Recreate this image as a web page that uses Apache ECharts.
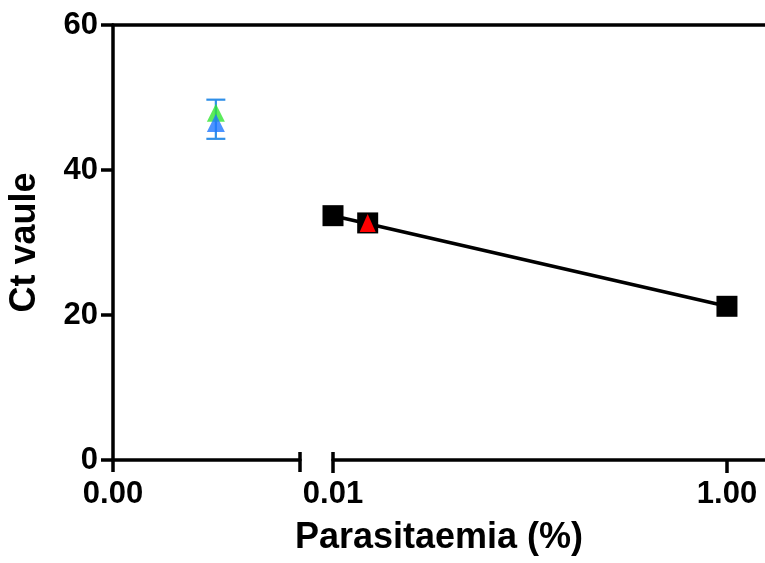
<!DOCTYPE html>
<html>
<head>
<meta charset="utf-8">
<script src="https://cdn.jsdelivr.net/npm/echarts@6/dist/echarts.min.js"></script>
<style>
  html, body { margin: 0; padding: 0; background: #fff; }
  #chart { width: 765px; height: 563px; }
</style>
</head>
<body>
<div id="chart"></div>
<script>
// left segment of the broken axis (undetected samples)
const lowX = [0.0011]
const greenY = [47.9]
const blueY = [46.5]
const errLow = [44.3]
const errHigh = [49.7]
// right segment (log scale)
const squareX = [0.01, 1]
const squareY = [33.7, 21.2]
const redX = [0.015]
const redY = [32.7]
// ticks
const yTicks = [0, 20, 40, 60]
const lowTicks = [0, 0.002]
const logTicks = [0.01, 1]

const font = { fontFamily: 'Liberation Sans', fontWeight: 'bold', color: '#000' }
const black = { color: '#000', width: 3.5 }

const chart = echarts.init(document.getElementById('chart'))

chart.setOption({
  animation: false,
  grid: [
    { left: 113, top: 25, width: 187, bottom: 103 }, // left piece
    { left: 333, top: 25, right: 0, bottom: 103 }, // log piece
    { left: 113, top: 25, right: 0, bottom: 103 } // frame + x title
  ],
  xAxis: [
    {
      gridIndex: 0, type: 'value', min: 0, max: lowTicks[1], position: 'bottom',
      axisLine: { show: true, onZero: false, lineStyle: black },
      axisTick: { customValues: lowTicks, length: 12, lineStyle: black },
      axisLabel: { customValues: [lowTicks[0]], formatter: v => v.toFixed(2), fontSize: 31, margin: 19, ...font },
      splitLine: { show: false }
    },
    { // break mark going up
      gridIndex: 0, type: 'value', min: 0, max: lowTicks[1], position: 'bottom',
      axisLine: { show: false, onZero: false },
      axisTick: { inside: true, customValues: [lowTicks[1]], length: 8, lineStyle: black },
      axisLabel: { show: false },
      splitLine: { show: false }
    },
    {
      gridIndex: 1, type: 'log', logBase: 100, min: 0.01, max: 1.56, position: 'bottom',
      axisLine: { show: true, onZero: false, lineStyle: black },
      axisTick: { customValues: logTicks, length: 13, lineStyle: black },
      axisLabel: { customValues: logTicks, formatter: v => Number(v).toFixed(2), fontSize: 31, margin: 19, ...font },
      splitLine: { show: false }
    },
    { // break mark going up
      gridIndex: 1, type: 'log', logBase: 100, min: 0.01, max: 1.56, position: 'bottom',
      axisLine: { show: false, onZero: false },
      axisTick: { inside: true, customValues: [logTicks[0]], length: 8, lineStyle: black },
      axisLabel: { show: false },
      splitLine: { show: false }
    },
    { // top frame line
      gridIndex: 2, type: 'value', min: 0, max: 1, position: 'top',
      axisLine: { show: true, onZero: false, lineStyle: black },
      axisTick: { show: false }, axisLabel: { show: false }, splitLine: { show: false }
    },
    {
      gridIndex: 2, type: 'value', min: 0, max: 1, position: 'bottom',
      axisLine: { show: false, onZero: false },
      axisTick: { show: false }, axisLabel: { show: false }, splitLine: { show: false },
      name: 'Parasitaemia (%)', nameLocation: 'middle', nameGap: 60,
      nameTextStyle: { fontSize: 36, ...font }
    }
  ],
  yAxis: [
    {
      gridIndex: 0, type: 'value', min: 0, max: 60, interval: 20,
      axisLine: { show: true, onZero: false, lineStyle: black },
      axisTick: { length: 12, lineStyle: black },
      axisLabel: { fontSize: 31, margin: 15, ...font },
      splitLine: { show: false },
      name: 'Ct vaule', nameLocation: 'middle', nameGap: 70,
      nameTextStyle: { fontSize: 36, ...font }
    },
    { gridIndex: 1, type: 'value', min: 0, max: 60, show: false, splitLine: { show: false } },
    { gridIndex: 2, type: 'value', min: 0, max: 60, show: false, splitLine: { show: false } }
  ],
  series: [
    {
      type: 'custom',
      xAxisIndex: 0,
      yAxisIndex: 0,
      data: lowX.map((x, i) => [x, errLow[i], errHigh[i]]),
      renderItem: (params, api) => {
        const top = api.coord([api.value(0), api.value(2)])
        const bot = api.coord([api.value(0), api.value(1)])
        const w = 9.5
        const style = { stroke: '#2f8fe8', lineWidth: 2.2 }
        return {
          type: 'group',
          children: [
            { type: 'line', shape: { x1: top[0], y1: top[1], x2: bot[0], y2: bot[1] }, style },
            { type: 'line', shape: { x1: top[0] - w, y1: top[1], x2: top[0] + w, y2: top[1] }, style },
            { type: 'line', shape: { x1: bot[0] - w, y1: bot[1], x2: bot[0] + w, y2: bot[1] }, style }
          ]
        }
      }
    },
    {
      type: 'scatter', xAxisIndex: 0, yAxisIndex: 0, z: 3,
      symbol: 'triangle', symbolSize: [18, 18],
      itemStyle: { color: '#33e633' },
      data: lowX.map((x, i) => [x, greenY[i]])
    },
    {
      type: 'scatter', xAxisIndex: 0, yAxisIndex: 0, z: 4,
      symbol: 'triangle', symbolSize: [18, 18],
      itemStyle: { color: '#1f78ff' },
      data: lowX.map((x, i) => [x, blueY[i]])
    },
    {
      type: 'line', xAxisIndex: 2, yAxisIndex: 1, z: 3,
      symbol: 'rect', symbolSize: 21,
      lineStyle: { color: '#000', width: 3.5 },
      itemStyle: { color: '#000' },
      data: squareX.map((x, i) => [x, squareY[i]])
    },
    {
      type: 'scatter', xAxisIndex: 2, yAxisIndex: 1, z: 4,
      symbol: 'rect', symbolSize: 21,
      itemStyle: { color: '#000', opacity: 1 },
      data: redX.map((x, i) => [x, redY[i]])
    },
    {
      type: 'scatter', xAxisIndex: 2, yAxisIndex: 1, z: 5,
      symbol: 'triangle', symbolSize: [16, 18],
      itemStyle: { color: '#ff0000', opacity: 1 },
      data: redX.map((x, i) => [x, redY[i]])
    }
  ]
})
</script>
</body>
</html>
